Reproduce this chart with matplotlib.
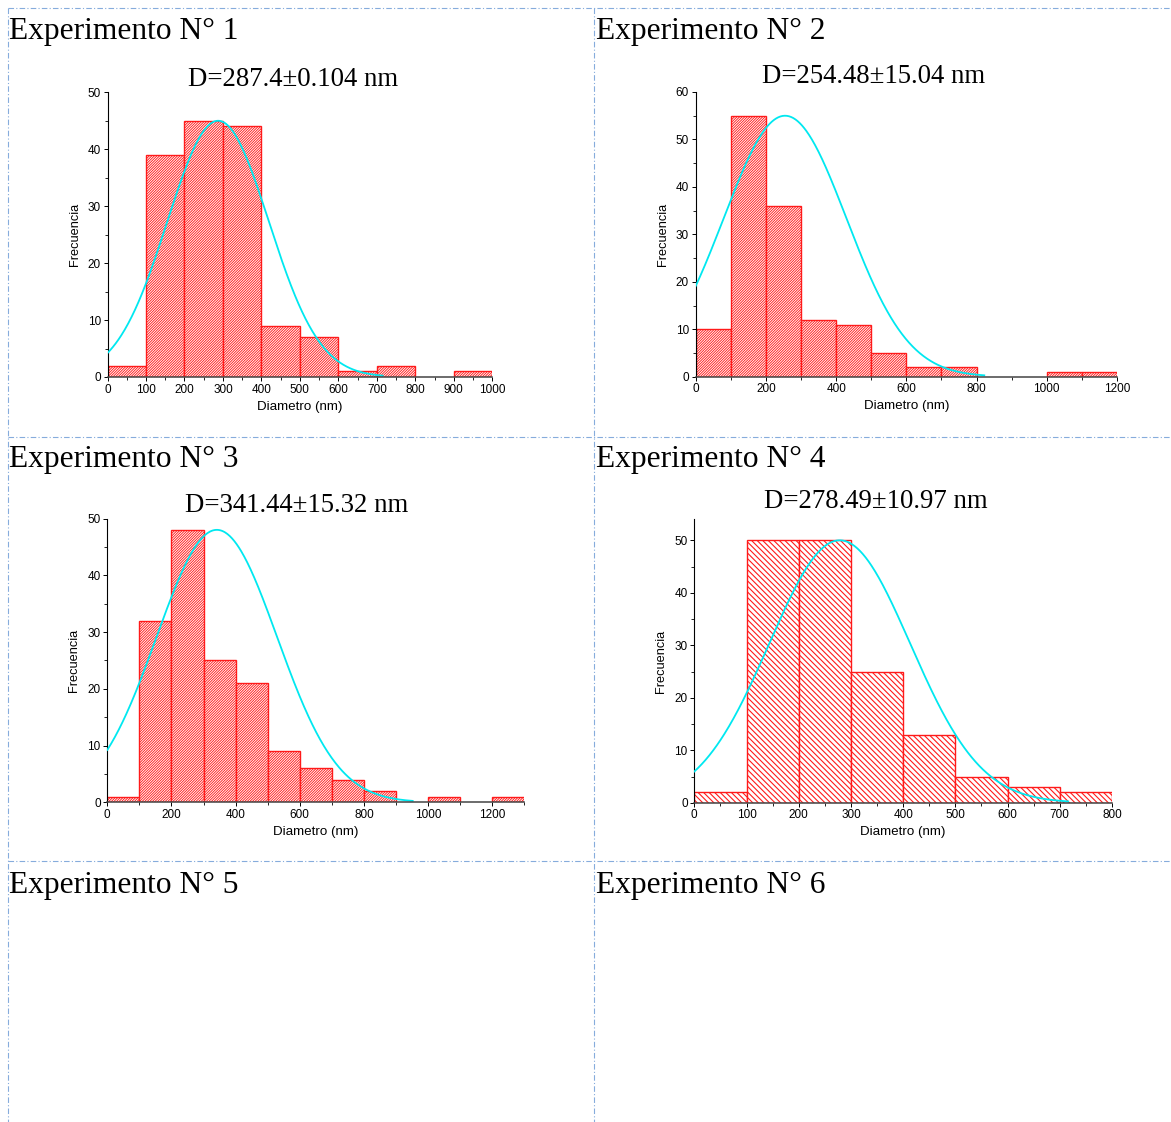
import numpy as np
import matplotlib
matplotlib.use("Agg")
import matplotlib.pyplot as plt
from matplotlib.ticker import MultipleLocator
from matplotlib.lines import Line2D

# ---------------- data ----------------
bin_width = 100
counts1 = [2, 39, 45, 44, 9, 7, 1, 2, 0, 1]
counts2 = [10, 55, 36, 12, 11, 5, 2, 2, 0, 0, 1, 1]
counts3 = [1, 32, 48, 25, 21, 9, 6, 4, 2, 0, 1, 0, 1]
counts4 = [2, 50, 50, 25, 13, 5, 3, 2]

titles = ["D=287.4\u00b10.104 nm", "D=254.48\u00b115.04 nm",
          "D=341.44\u00b115.32 nm", "D=278.49\u00b110.97 nm"]
cell_labels = ["Experimento N\u00b0 1", "Experimento N\u00b0 2", "Experimento N\u00b0 3",
               "Experimento N\u00b0 4", "Experimento N\u00b0 5", "Experimento N\u00b0 6"]

# Gaussian fit parameters (centre, sigma, amplitude, end of drawn curve)
fit_center = [287.4, 254.48, 341.44, 278.49]
fit_sigma = [132, 175, 188, 135]
fit_amp = [45, 55, 48, 50]
fit_end = [715, 822, 952, 716]

xlims = [(0, 1000), (0, 1200), (0, 1300), (0, 800)]
ylims = [(0, 50), (0, 60), (0, 50), (0, 54)]
xmajor = [100, 200, 200, 100]
xminor = [50, 100, 100, 50]
hatches = ["/" * 13, "/" * 13, "/" * 13, "\\" * 6]
hatch_lw = [0.65, 0.65, 0.65, 0.8]

# ---------------- layout (pixel boxes) ----------------
W, H = 1171, 1122
fig = plt.figure(figsize=(W / 100, H / 100), dpi=100)
fig.patch.set_facecolor("white")
plt.rcParams["hatch.color"] = "red"

# left, right, top, bottom in pixels
boxes = [(107.5, 492.3, 92.3, 377.0),
         (695.7, 1117.0, 92.0, 376.7),
         (107.3, 524.3, 518.5, 802.3),
         (694.3, 1112.0, 519.3, 802.8)]
title_pos = [(293, 86), (874, 83), (297, 512), (876, 508)]
cell_pos = [(9, 39), (596, 39), (9, 467), (596, 467), (9, 893), (596, 893)]

sans = ["Liberation Sans", "DejaVu Sans"]
serif = ["Liberation Serif", "DejaVu Serif"]

all_counts = [counts1, counts2, counts3, counts4]

for i in range(4):
    l, r, t, b = boxes[i]
    ax = fig.add_axes([l / W, 1 - b / H, (r - l) / W, (b - t) / H])
    counts = np.array(all_counts[i])
    edges = np.arange(len(counts)) * bin_width
    mask = counts > 0
    with plt.rc_context({"hatch.linewidth": hatch_lw[i]}):
        ax.bar(edges[mask], counts[mask], width=bin_width, align="edge",
               facecolor="white", edgecolor="#ff1a1a", linewidth=1.0,
               hatch=hatches[i], zorder=2)
    xs = np.linspace(0, fit_end[i], 400)
    ys = fit_amp[i] * np.exp(-(xs - fit_center[i]) ** 2 / (2 * fit_sigma[i] ** 2))
    ax.plot(xs, ys, color="#00e8f0", linewidth=1.3, zorder=3)

    ax.set_xlim(*xlims[i])
    ax.set_ylim(*ylims[i])
    ax.xaxis.set_major_locator(MultipleLocator(xmajor[i]))
    ax.xaxis.set_minor_locator(MultipleLocator(xminor[i]))
    ax.yaxis.set_major_locator(MultipleLocator(10))
    ax.yaxis.set_minor_locator(MultipleLocator(5))
    for s in ["top", "right"]:
        ax.spines[s].set_visible(False)
    ax.spines["left"].set_color("black")
    ax.spines["left"].set_linewidth(0.8)
    ax.spines["bottom"].set_color("#444444")
    ax.spines["bottom"].set_linewidth(1.1)
    ax.spines["bottom"].set_zorder(4)
    ax.tick_params(axis="both", which="major", direction="out", length=3.2,
                   width=0.7, labelsize=8.5, pad=1.6, colors="black")
    ax.tick_params(axis="both", which="minor", direction="out", length=2.0,
                   width=0.6)
    for lab in ax.get_xticklabels() + ax.get_yticklabels():
        lab.set_fontfamily(sans)
    ax.set_xlabel("Diametro (nm)", fontsize=9.6, family=sans, labelpad=3.5)
    ax.set_ylabel("Frecuencia", fontsize=9.2, family=sans, labelpad=5.0)
    ax.patch.set_alpha(0)

    tx, ty = title_pos[i]
    fig.text(tx / W, 1 - ty / H, titles[i], ha="center", va="baseline",
             fontsize=19.3, family=serif, color="black")

for (cx, cy), txt in zip(cell_pos, cell_labels):
    fig.text(cx / W, 1 - cy / H, txt, ha="left", va="baseline",
             fontsize=22.7, family=serif, color="black")

# dashed table borders
border_color = "#86acdc"
dash = (0, (5, 2, 1, 2))
for yy in [8, 436.5, 861]:
    fig.add_artist(Line2D([7.5 / W, 1.0], [1 - yy / H, 1 - yy / H],
                          transform=fig.transFigure, color=border_color,
                          linewidth=0.8, linestyle=dash))
for xx in [7.5, 593.5]:
    fig.add_artist(Line2D([xx / W, xx / W], [1 - 8 / H, 0.0],
                          transform=fig.transFigure, color=border_color,
                          linewidth=0.8, linestyle=dash))

fig.savefig("out.png", dpi=100, facecolor="white")
